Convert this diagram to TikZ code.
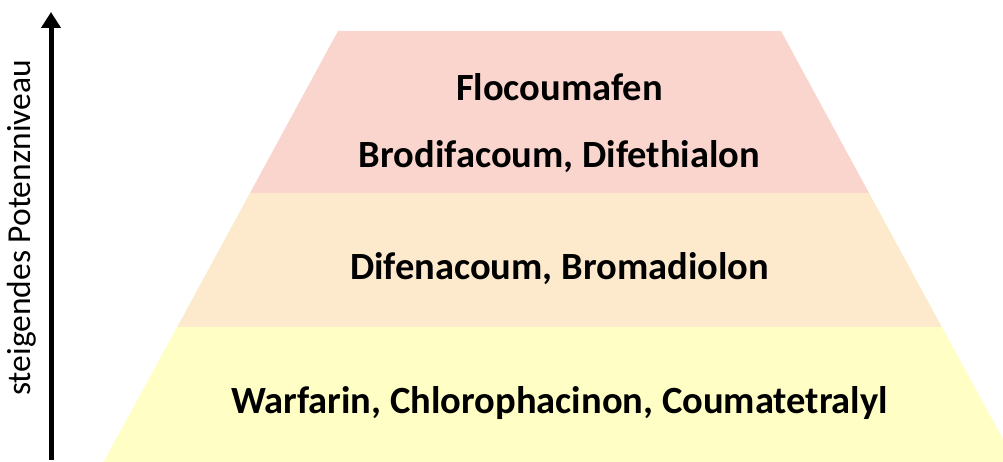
\documentclass[tikz,border=0pt]{standalone}
\usepackage{fontspec}
\setmainfont{Carlito}
\usetikzlibrary{arrows.meta}
\definecolor{bandtop}{HTML}{F9D5CD}
\definecolor{bandmid}{HTML}{FDE9CC}
\definecolor{bandlow}{HTML}{FFFEC4}
\tikzset{
  lbl/.style={font=\bfseries\fontsize{38.5}{44}\selectfont, text=black, inner sep=0pt, anchor=base},
  axislbl/.style={font=\fontsize{33.5}{38}\selectfont, rotate=90, inner sep=0pt},
}
\begin{document}
\begin{tikzpicture}[x=1pt,y=-1pt]
\useasboundingbox (0,0) rectangle (1003,462);
\begin{scope}
\clip (0,0) rectangle (1003,462);
\fill[bandtop] (338,31) -- (781,31) -- (869,193) -- (250,193) -- cycle;
\fill[bandmid] (250,193) -- (869,193) -- (941.8,327) -- (177.2,327) -- cycle;
\fill[bandlow] (177.2,327) -- (941.8,327) -- (1016,463) -- (103,463) -- cycle;
\end{scope}
\node[lbl] (t1) at (559.5,101) {Flocoumafen};
\node[lbl] (t2) at (559.5,168) {Brodifacoum, Difethialon};
\node[lbl] (t3) at (559.5,279) {Difenacoum, Bromadiolon};
\node[lbl] (t4) at (559.5,413) {Warfarin, Chlorophacinon, Coumatetralyl};
\coordinate (abot) at (51,460);
\coordinate (atop) at (51,12);
\draw[line width=5pt, -{Triangle[length=16pt,width=19pt]}] (abot) -- (atop);
\node[axislbl] (axl) at (22,228) {steigendes Potenzniveau};
\end{tikzpicture}
\end{document}
